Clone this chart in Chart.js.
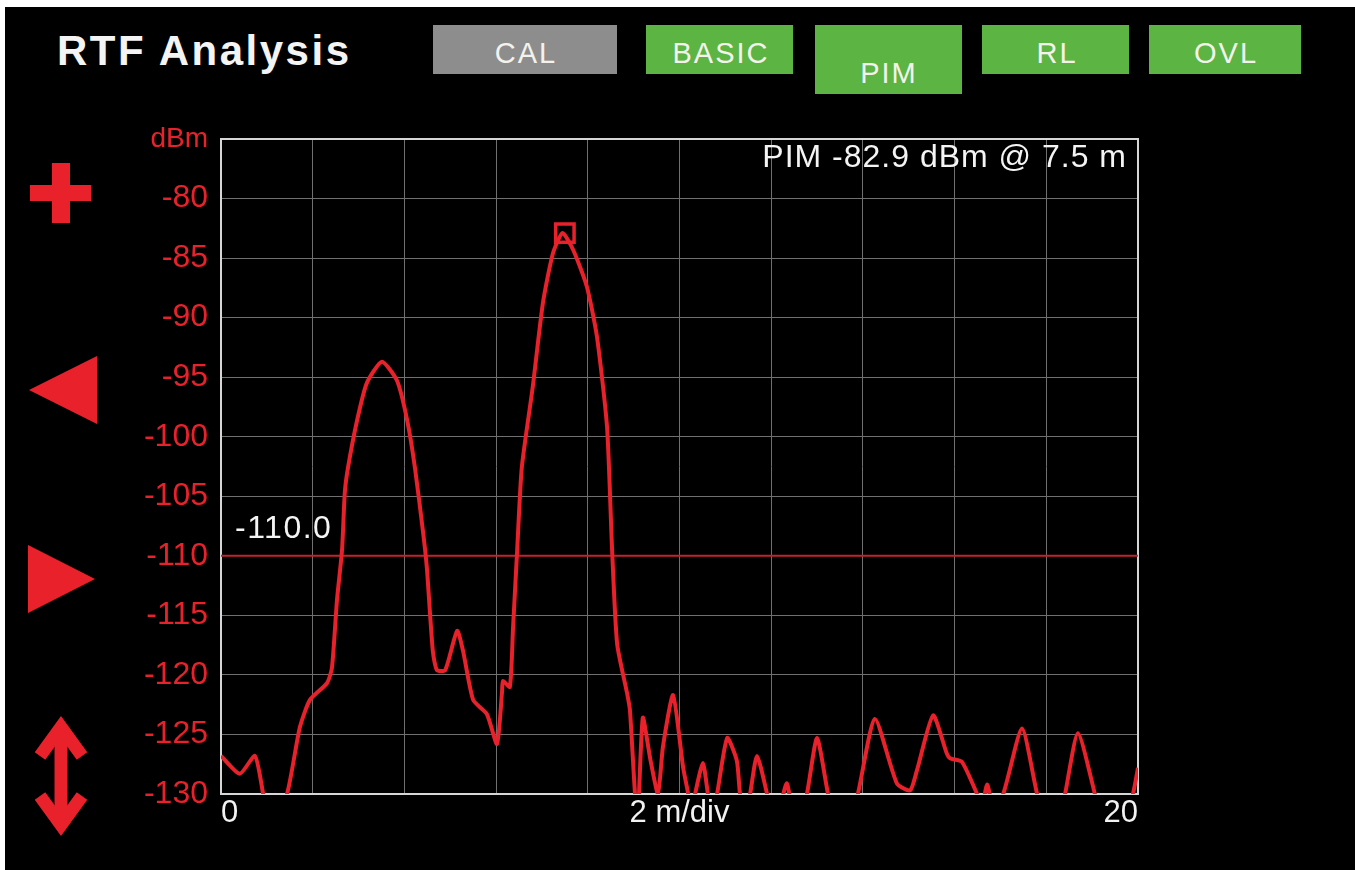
<!DOCTYPE html>
<html><head><meta charset="utf-8">
<script src="https://cdn.jsdelivr.net/npm/chart.js@4"></script>
<style>
html,body{margin:0;padding:0;background:#fff;width:1355px;height:870px;overflow:hidden}
#bg{position:absolute;left:5px;top:7px;width:1350px;height:863px;background:#000}
#c{position:absolute;left:0;top:0}
svg{position:absolute;left:0;top:0}
</style></head><body>
<div id="bg"></div>
<svg width="1355" height="870" xmlns="http://www.w3.org/2000/svg">
  <g font-family="Liberation Sans, Arial, sans-serif">
    <text x="57" y="65" font-size="42" font-weight="bold" fill="#f4f4f4" letter-spacing="2.5">RTF Analysis</text>
    <rect x="433" y="25" width="184" height="49" fill="#8d8d8d"/>
    <text x="526" y="63" font-size="29" fill="#f3f3ec" text-anchor="middle" letter-spacing="2">CAL</text>
    <rect x="646" y="25" width="147" height="49" fill="#5cb443"/>
    <text x="721" y="63" font-size="29" fill="#f3f3ec" text-anchor="middle" letter-spacing="2">BASIC</text>
    <rect x="815" y="25" width="147" height="69" fill="#5cb443"/>
    <text x="889" y="83" font-size="29" fill="#f3f3ec" text-anchor="middle" letter-spacing="2">PIM</text>
    <rect x="982" y="25" width="147" height="49" fill="#5cb443"/>
    <text x="1057" y="63" font-size="29" fill="#f3f3ec" text-anchor="middle" letter-spacing="2">RL</text>
    <rect x="1149" y="25" width="152" height="49" fill="#5cb443"/>
    <text x="1226" y="63" font-size="29" fill="#f3f3ec" text-anchor="middle" letter-spacing="2">OVL</text>
  </g>
  <g fill="#e8212b">
    <rect x="30" y="185" width="61" height="16"/>
    <rect x="52" y="163" width="18" height="60"/>
    <polygon points="29,390 97,356 97,424"/>
    <polygon points="95,579 28,545 28,613"/>
  </g>
  <g stroke="#e8212b" stroke-width="13" fill="none" stroke-linejoin="miter" stroke-miterlimit="10">
    <line x1="61" y1="728" x2="61" y2="824"/>
    <polyline points="40,756 61,727 82,756"/>
    <polyline points="40,796 61,825 82,796"/>
  </g>
</svg>
<canvas id="c" width="1355" height="870"></canvas>
<script>
// ---- data ----
const distance = [0.00,0.41,0.74,0.92,1.07,1.44,1.72,1.94,2.31,2.42,
  2.53,2.64,2.70,2.77,2.97,3.18,3.51,3.84,4.06,4.23,
  4.41,4.49,4.62,4.71,4.89,5.15,5.28,5.50,5.80,6.02,
  6.13,6.15,6.30,6.37,6.46,6.56,6.80,7.02,7.24,7.45,
  7.68,7.98,8.20,8.42,8.53,8.64,8.86,8.92,9.03,9.09,
  9.20,9.36,9.53,9.64,9.86,10.08,10.19,10.25,10.34,10.51,
  10.62,10.71,10.82,11.04,11.25,11.32,11.43,11.54,11.69,11.91,
  12.02,12.19,12.34,12.45,12.63,12.78,13.00,13.24,13.39,13.72,
  13.89,14.26,14.74,15.03,15.18,15.53,15.83,15.90,16.16,16.49,
  16.60,16.71,16.84,17.06,17.47,17.80,17.97,18.30,18.41,18.69,
  19.06,19.17,19.72,19.89,20.00];
const level = [-126.8,-128.3,-126.8,-130,-133,-130,-124.4,-122.1,-120.7,-119.4,
  -113.7,-109.5,-104.7,-102.6,-98.6,-95.5,-93.7,-95.3,-98.6,-102.6,
  -108.1,-111,-118,-119.6,-119.6,-116.3,-118,-122.1,-123.3,-125.8,
  -121.4,-120.5,-121,-116,-109.5,-102.6,-95.8,-88.8,-84.6,-82.9,
  -84.3,-87.4,-91.6,-99.2,-109.5,-117.4,-121.6,-123,-130,-132,
  -123.6,-127,-130,-126,-121.7,-127.8,-130,-132,-130,-127.4,
  -130,-132,-130,-125.3,-127.2,-130,-132,-130,-126.8,-130,
  -132,-131,-129.1,-131,-132,-130,-125.3,-130,-132,-132,
  -130,-123.7,-129.1,-129.7,-128,-123.4,-126.6,-127,-127.3,-130,
  -131,-129.2,-131,-130,-124.5,-130,-132,-132,-130,-124.9,
  -130,-132,-132,-130,-127.8];
const threshold = -110.0;
const markerDistance = 7.5;
const markerLevel = -82.9;
const xRange = [0, 20];
const yRange = [-130, -75];
const xLabelValues = [0, 10, 20];
const xLabelTexts = ['0', '2 m/div', '20'];
const yUnit = 'dBm';

const FONT = '"Liberation Sans", Arial, sans-serif';
const RED = '#e8212b';

const framePlugin = {
  id: 'frame',
  beforeDatasetsDraw(chart) {
    const a = chart.chartArea, c = chart.ctx;
    c.save();
    c.strokeStyle = '#d6d6d6';
    c.lineWidth = 2;
    c.strokeRect(a.left, a.top, a.right - a.left, a.bottom - a.top);
    c.restore();
  }
};
const labelsPlugin = {
  id: 'labels',
  afterDatasetsDraw(chart) {
    const c = chart.ctx, xs = chart.scales.x, ys = chart.scales.y, a = chart.chartArea;
    c.save();
    c.fillStyle = '#f4f4f4';
    c.textBaseline = 'alphabetic';
    c.textAlign = 'left';
    c.font = '32px ' + FONT;
    try { c.letterSpacing = '1.5px'; } catch (e) {}
    c.fillText(threshold.toFixed(1), xs.getPixelForValue(xRange[0]) + 14, ys.getPixelForValue(threshold) - 18);
    c.textAlign = 'right';
    try { c.letterSpacing = '1px'; } catch (e) {}
    c.fillText('PIM ' + markerLevel.toFixed(1) + ' dBm @ ' + markerDistance.toFixed(1) + ' m', a.right - 11, a.top + 28);
    c.restore();
  }
};

new Chart(document.getElementById('c'), {
  type: 'line',
  data: {
    datasets: [
      { label: 'threshold', data: [{x: xRange[0], y: threshold}, {x: xRange[1], y: threshold}],
        borderColor: '#c4232b', borderWidth: 2, pointRadius: 0, tension: 0, order: 3 },
      { label: 'RTF', data: distance.map((d, i) => ({x: d, y: level[i]})),
        borderColor: RED, borderWidth: 4, pointRadius: 0, tension: 0.2, order: 2 },
      { label: 'marker', data: [{x: markerDistance, y: markerLevel}], showLine: false,
        pointStyle: 'rect', pointRadius: 13, borderColor: RED, borderWidth: 3.5,
        backgroundColor: 'rgba(0,0,0,0)', order: 1 }
    ]
  },
  options: {
    responsive: false, animation: false, devicePixelRatio: 1,
    layout: { padding: { left: 0, top: 139, right: 217, bottom: 36 } },
    plugins: { legend: { display: false }, tooltip: { enabled: false } },
    scales: {
      x: {
        type: 'linear', min: xRange[0], max: xRange[1],
        afterFit(s) { s.height = 40; },
        grid: { color: '#707070', lineWidth: 1, drawTicks: false },
        border: { display: false },
        ticks: {
          stepSize: 2, autoSkip: false, maxRotation: 0, align: 'inner', padding: 1,
          color: '#f2f2f2', font: { family: FONT, size: 31 },
          callback(v) { const i = xLabelValues.indexOf(v); return i >= 0 ? xLabelTexts[i] : ''; }
        }
      },
      y: {
        min: yRange[0], max: yRange[1],
        afterFit(s) { s.width = 221; },
        grid: { color: '#707070', lineWidth: 1, drawTicks: false },
        border: { display: false },
        ticks: {
          stepSize: 5, padding: 13, color: RED,
          font: (ctx) => ({ family: FONT, size: (ctx.tick && ctx.tick.value === yRange[1]) ? 28 : 32 }),
          callback(v) { return v === yRange[1] ? yUnit : v; }
        }
      }
    }
  },
  plugins: [framePlugin, labelsPlugin]
});
</script>
</body></html>
